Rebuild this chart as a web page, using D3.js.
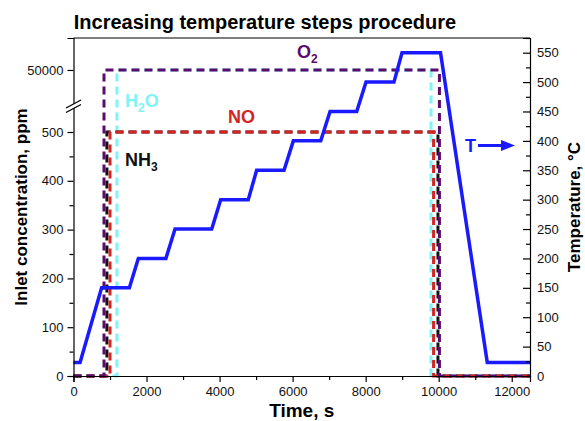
<!DOCTYPE html>
<html>
<head>
<meta charset="utf-8">
<script src="https://cdn.jsdelivr.net/npm/d3@7"></script>
<style>
  body { margin: 0; background: #fff; }
  svg { font-family: "Liberation Sans", Arial, sans-serif; }
</style>
</head>
<body>
<script>
// Temperature program (time in s, temperature in °C)
var tempTime  = [0, 180, 770, 1530, 1775, 2530, 2780, 3785, 4030, 4785, 5015, 5765, 6020, 6770, 7025, 7755, 8010, 8775, 8995, 10050, 11330, 12500];
var tempValue = [23, 23, 150, 150, 200, 200, 250, 250, 300, 300, 350, 350, 400, 400, 450, 450, 500, 500, 550, 550, 23, 23];

// Gas feeds (time in s, concentration in ppm)
var h2oTime  = [0, 1190, 1190, 9790, 9790, 12500];
var h2oValue = [0, 0, 50000, 50000, 0, 0];
var nh3Time  = [0, 915, 915, 9980, 9980, 12500];
var nh3Value = [0, 0, 500, 500, 0, 0];
var noTime   = [0, 1000, 1000, 9860, 9860, 12500];
var noValue  = [0, 0, 500, 500, 0, 0];
var o2Time   = [0, 835, 835, 10020, 10020, 12500];
var o2Value  = [0, 0, 50000, 50000, 0, 0];

// Tick values
var xTicks = [0, 2000, 4000, 6000, 8000, 10000, 12000];
var xMinor = [1000, 3000, 5000, 7000, 9000, 11000];
var ppmTicks = [0, 100, 200, 300, 400, 500, 50000];
var ppmMinor = [50, 150, 250, 350, 450];
var tempTicks = d3.range(0, 551, 50);
var tempMinor = d3.range(25, 576, 50);

var width = 585, height = 421;
var plotL = 73.5, plotR = 530, plotT = 38, plotB = 376;
var breakY = 107.6;

var svg = d3.select("body").append("svg")
    .attr("width", width)
    .attr("height", height);

var x = d3.scaleLinear().domain([0, 12500]).range([plotL, plotR]);
// broken ppm axis: 0-550 below the break, 45000-54250 above it
var y = d3.scaleLinear().domain([0, 550, 45000, 54250]).range([plotB, breakY, breakY, plotT]);
var yT = d3.scaleLinear().domain([0, 575]).range([plotB, plotT]);

// gas lines
var gases = [
  {t: h2oTime, v: h2oValue, color: "#7ff3f5"},
  {t: nh3Time, v: nh3Value, color: "#111111"},
  {t: noTime,  v: noValue,  color: "#d42424"},
  {t: o2Time,  v: o2Value,  color: "#5a0c6e"}
];

var gasLine = d3.line().x(d => x(d[0])).y(d => y(d[1]));

gases.forEach(function(g) {
  svg.append("path")
      .attr("d", gasLine(d3.zip(g.t, g.v)))
      .attr("fill", "none")
      .attr("stroke", g.color)
      .attr("stroke-width", 3)
      .attr("stroke-dasharray", "8,5");
});

// temperature line
var tLine = d3.line().x(d => x(d[0])).y(d => yT(d[1]));
svg.append("path")
    .attr("d", tLine(d3.zip(tempTime, tempValue)))
    .attr("fill", "none")
    .attr("stroke", "#1a1aff")
    .attr("stroke-width", 3.5)
    .attr("stroke-linejoin", "miter");

// axes
function styleAxis(g) {
  g.selectAll(".domain").attr("stroke", "#000").attr("stroke-width", 1.2);
  g.selectAll(".tick line").attr("stroke", "#000").attr("stroke-width", 1.2);
  g.selectAll("text").style("font-size", "13px").attr("fill", "#111");
}

svg.append("g")
    .attr("transform", "translate(0," + plotB + ")")
    .call(d3.axisBottom(x).tickValues(xTicks).tickSizeOuter(0).tickSize(6).tickPadding(5).tickFormat(d3.format("d")))
    .call(styleAxis);
svg.append("g")
    .attr("transform", "translate(0," + plotB + ")")
    .call(d3.axisBottom(x).tickValues(xMinor).tickSize(4).tickFormat(""))
    .call(g => g.select(".domain").remove())
    .call(styleAxis);

svg.append("g")
    .attr("transform", "translate(" + plotL + ",0)")
    .call(d3.axisLeft(y).tickValues(ppmTicks).tickSizeOuter(0).tickSize(6).tickPadding(4).tickFormat(d3.format("d")))
    .call(styleAxis);
svg.append("g")
    .attr("transform", "translate(" + plotL + ",0)")
    .call(d3.axisLeft(y).tickValues(ppmMinor).tickSize(4).tickFormat(""))
    .call(g => g.select(".domain").remove())
    .call(styleAxis);

svg.append("g")
    .attr("transform", "translate(" + plotR + ",0)")
    .call(d3.axisRight(yT).tickValues(tempTicks).tickSizeOuter(0).tickSize(-7).tickPadding(7))
    .call(styleAxis);
svg.append("g")
    .attr("transform", "translate(" + plotR + ",0)")
    .call(d3.axisRight(yT).tickValues(tempMinor).tickSize(-4).tickFormat(""))
    .call(g => g.select(".domain").remove())
    .call(styleAxis);

// top frame line
svg.append("line")
    .attr("x1", plotL).attr("x2", plotR)
    .attr("y1", plotT).attr("y2", plotT)
    .attr("stroke", "#000").attr("stroke-width", 1.2);

// axis break mark
svg.append("polygon")
    .attr("points", [[66, 108], [81, 100], [81, 104.5], [66, 112.5]].join(" "))
    .attr("fill", "#fff");
svg.append("line").attr("x1", 66).attr("y1", 108).attr("x2", 81).attr("y2", 100)
    .attr("stroke", "#000").attr("stroke-width", 1.2);
svg.append("line").attr("x1", 66).attr("y1", 112.5).attr("x2", 81).attr("y2", 104.5)
    .attr("stroke", "#000").attr("stroke-width", 1.2);

// title and axis titles
svg.append("text")
    .attr("x", 265).attr("y", 29)
    .attr("text-anchor", "middle")
    .style("font-size", "20px").style("font-weight", "bold")
    .text("Increasing temperature steps procedure");

svg.append("text")
    .attr("x", (plotL + plotR) / 2).attr("y", 417)
    .attr("text-anchor", "middle")
    .style("font-size", "19px").style("font-weight", "bold")
    .text("Time, s");

svg.append("text")
    .attr("transform", "translate(27," + (plotT + plotB) / 2 + ") rotate(-90)")
    .attr("text-anchor", "middle")
    .style("font-size", "17px").style("font-weight", "bold")
    .text("Inlet concentration, ppm");

svg.append("text")
    .attr("transform", "translate(580," + (plotT + plotB) / 2 + ") rotate(-90)")
    .attr("text-anchor", "middle")
    .style("font-size", "17px").style("font-weight", "bold")
    .text("Temperature, °C");

// series labels
function label(xp, yp, color, main, sub, tail) {
  var t = svg.append("text")
      .attr("x", xp).attr("y", yp)
      .attr("fill", color)
      .style("font-size", "18px").style("font-weight", "bold");
  t.append("tspan").text(main);
  if (sub) {
    t.append("tspan").attr("dy", 5).style("font-size", "12px").text(sub);
    if (tail) t.append("tspan").attr("dy", -5).text(tail);
  }
}
label(297, 58, "#5a0c6e", "O", "2");
label(125, 107, "#7ff3f5", "H", "2", "O");
label(228, 123, "#d42424", "NO");
label(125, 166, "#111111", "NH", "3");
label(465, 152, "#1a1aff", "T");

// T arrow
svg.append("line")
    .attr("x1", 478).attr("x2", 504)
    .attr("y1", 145.5).attr("y2", 145.5)
    .attr("stroke", "#1a1aff").attr("stroke-width", 3);
svg.append("polygon")
    .attr("points", [[501, 140], [515, 145.5], [501, 151]].join(" "))
    .attr("fill", "#1a1aff");
</script>
</body>
</html>
